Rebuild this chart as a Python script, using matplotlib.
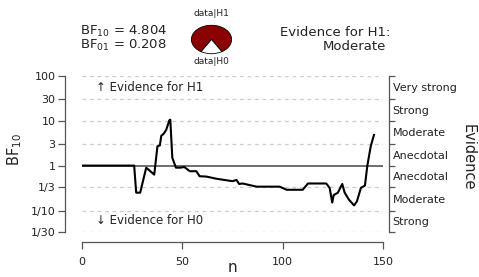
import matplotlib.pyplot as plt
import numpy as np

plt.rcParams['font.family'] = ['DejaVu Sans']

# sequential analysis
n_obs = [0, 26, 27, 29, 32, 36, 37.6, 38.8, 39.5, 40.7, 42, 43.5, 44, 45, 46.8, 49, 51,
         53.7, 57, 58.6, 62, 67, 75, 77, 78.3, 80, 87, 98.5, 102, 110, 112.6, 121.7,
         123.4, 124.7, 125.4, 127.5, 129.7, 130.9, 133, 135.6, 137, 139, 141, 142.2,
         143.9, 145.5]
bf10 = [1, 1, 0.25, 0.25, 0.9, 0.63, 2.7, 2.8, 4.6, 5.1, 6.3, 10.1, 10.5, 1.5, 0.9, 0.9,
        0.93, 0.75, 0.75, 0.58, 0.57, 0.51, 0.45, 0.48, 0.39, 0.4, 0.34, 0.34, 0.29, 0.29,
        0.4, 0.4, 0.32, 0.15, 0.22, 0.25, 0.39, 0.25, 0.175, 0.13, 0.16, 0.32, 0.36, 1.0,
        2.7, 4.804]

y_ticks = [1/30, 1/10, 1/3, 1, 3, 10, 30, 100]
y_labels = ['1/30', '1/10', '1/3', '1', '3', '10', '30', '100']
evidence = ['Strong', 'Moderate', 'Anecdotal', 'Anecdotal', 'Moderate', 'Strong', 'Very strong']
x_ticks = [0, 50, 100, 150]

bf_final = 4.804
bf01 = 0.208
category = 'Moderate'

txt = '#222222'
fig = plt.figure(figsize=(4.79, 2.77), dpi=100)
W, H = 479, 277
ax = fig.add_axes([82 / W, 1 - 232 / H, 301 / W, (232 - 75.7) / H])

ax.set_yscale('log')
ax.set_xlim(0, 150)
ax.set_ylim(1/30, 100)
for y in y_ticks:
    if y == 1:
        ax.plot([0, 150], [y, y], color='#555555', lw=1.2, zorder=1)
    else:
        ax.plot([0, 150], [y, y], color='#cccccc', lw=0.9, ls=(0, (3, 3)), zorder=1)

ax.plot(n_obs, bf10, color='black', lw=1.5, zorder=3)

ax.set_yticks(y_ticks)
ax.set_yticklabels(y_labels)
ax.minorticks_off()
ax.set_xticks(x_ticks)
ax.tick_params(axis='both', direction='out', length=5, width=0.9, colors='#555555',
               labelcolor=txt, labelsize=8)
ax.tick_params(axis='y', pad=2)
ax.tick_params(axis='x', pad=6)
for s in ['top', 'right']:
    ax.spines[s].set_visible(False)
ax.spines['left'].set_position(('outward', 12))
ax.spines['bottom'].set_position(('outward', 7))
ax.spines['left'].set_bounds(1/30, 100)
ax.spines['bottom'].set_bounds(0, 150)
for s in ['left', 'bottom']:
    ax.spines[s].set_color('#555555')
    ax.spines[s].set_linewidth(0.9)

fig.text(15 / W, 1 - 150 / H, 'BF$_{10}$', fontsize=10.5, color=txt, rotation=90,
         ha='center', va='center')
fig.text(232 / W, 1 - 268 / H, 'n', fontsize=11, color=txt, ha='center', va='center')

ax.text(7, 55, '\u2191 Evidence for H1', fontsize=8.5, color=txt, va='center')
ax.text(7, 0.06, '\u2193 Evidence for H0', fontsize=8.5, color=txt, va='center')

# right evidence axis
ax2 = ax.twinx()
ax2.set_yscale('log')
ax2.set_ylim(1/30, 100)
ax2.set_yticks(y_ticks)
ax2.set_yticklabels([])
mids = [np.sqrt(y_ticks[i] * y_ticks[i + 1]) for i in range(len(y_ticks) - 1)]
ax2.set_yticks(mids, minor=True)
ax2.set_yticklabels(evidence, minor=True)
ax2.tick_params(axis='y', which='major', direction='out', length=4, width=0.9, colors='#555555')
ax2.tick_params(axis='y', which='minor', length=0, labelsize=8, labelcolor=txt, pad=3)
for s in ['top', 'left', 'bottom']:
    ax2.spines[s].set_visible(False)
ax2.spines['right'].set_position(('outward', 4))
ax2.spines['right'].set_bounds(1/30, 100)
ax2.spines['right'].set_color('#555555')
ax2.spines['right'].set_linewidth(0.9)
fig.text(468 / W, 1 - 157 / H, 'Evidence', rotation=-90, fontsize=10.5, color=txt,
         ha='center', va='center')

# header
fig.text(80 / W, 1 - 31 / H, 'BF$_{10}$ = %.3f' % bf_final, fontsize=9.5, color=txt, va='center')
fig.text(80 / W, 1 - 45 / H, 'BF$_{01}$ = %.3f' % bf01, fontsize=9.5, color=txt, va='center')
fig.text(390 / W, 1 - 32 / H, 'Evidence for H1:', fontsize=9.5, color=txt, va='center', ha='right')
fig.text(386 / W, 1 - 47 / H, category, fontsize=9.5, color=txt, va='center', ha='right')

pax = fig.add_axes([191 / W, 1 - 54 / H, 41 / W, 29 / H])
p1 = bf_final / (1 + bf_final)
pax.pie([p1, 1 - p1], colors=['#8b0000', 'white'], startangle=270 - (1 - p1) * 180 - p1 * 360,
        wedgeprops=dict(edgecolor='black', linewidth=0.6))
pax.set_aspect('auto')
pax.set_xlim(-1.02, 1.02)
pax.set_ylim(-1.02, 1.02)
pax.axis('off')
fig.text(211.5 / W, 1 - 14 / H, 'data|H1', fontsize=6.5, color=txt, ha='center', va='center')
fig.text(211.5 / W, 1 - 62 / H, 'data|H0', fontsize=6.5, color=txt, ha='center', va='center')

fig.savefig('out.png', dpi=100)
